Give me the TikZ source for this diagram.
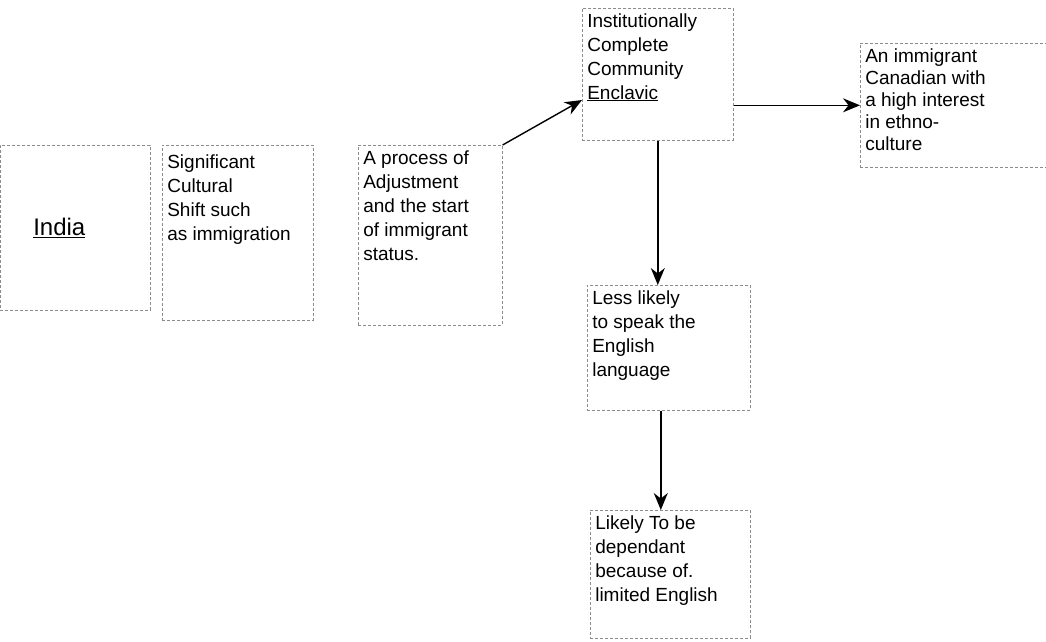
\documentclass[tikz,border=0pt]{standalone}
\usepackage{fontspec}
\setmainfont{Liberation Sans}
\usetikzlibrary{arrows.meta,calc}
\newcommand{\bxt}[3]{\parbox[t][#2][t]{#1}{\raggedright #3}}
\tikzset{
  box/.style={draw=black!45, dash pattern=on 3pt off 2pt, line width=0.6pt, inner sep=5pt,
    anchor=north west, font=\fontsize{19}{24}\selectfont},
  arr/.style={draw=black, line width=1.4pt, -{Stealth[length=17pt,width=14pt]}}
}
\begin{document}
\begin{tikzpicture}[x=1pt,y=1pt]
\useasboundingbox (0,0) rectangle (1046,-641);
\node[box] (n1) at (0,-145) {\parbox[c][155pt][c]{140pt}{\hspace*{28pt}\fontsize{24}{28}\selectfont\underline{India}}};
\node[box] (n2) at (162,-145) {\bxt{141pt}{165pt}{\vspace*{4pt}Significant\\Cultural\\Shift such\\as immigration}};
\node[box] (n3) at (358,-145) {\bxt{134pt}{170pt}{A process of\\Adjustment\\and the start\\of immigrant\\status.}};
\node[box] (n4) at (582,-8) {\bxt{141pt}{122pt}{Institutionally\\Complete\\Community\\\underline{Enclavic}}};
\node[box, font=\fontsize{19}{22}\selectfont] (n5) at (860,-43) {\bxt{182pt}{114pt}{An immigrant\\Canadian with\\a high interest\\in ethno-\\culture}};
\node[box] (n6) at (587,-285) {\bxt{153pt}{115pt}{Less likely\\to speak the\\English\\language}};
\node[box] (n7) at (590,-510) {\bxt{150pt}{118pt}{Likely To be\\dependant\\because of.\\limited English}};
\draw[arr] (n3.north east) -- ($(n4.north west)+(0,-92)$);
\draw[arr] (n4.east |- n5.west) -- (n5.west);
\draw[arr] (n4.south) -- (n4.south |- n6.north);
\draw[arr] ($(n6.south)+(-8,0)$) -- ($(n6.south |- n7.north)+(-8,0)$);
\end{tikzpicture}
\end{document}
